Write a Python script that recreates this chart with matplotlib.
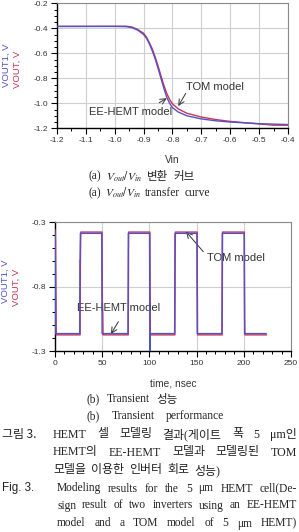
import matplotlib
matplotlib.use("Agg")
import matplotlib.pyplot as plt
from matplotlib.ticker import MultipleLocator, FixedLocator, FormatStrFormatter

W, H = 299, 532

# transfer curve (a)
vin_ee = [-1.2, -1.0, -0.96, -0.94, -0.92, -0.90, -0.89, -0.88, -0.87, -0.86, -0.85, -0.84, -0.83,
          -0.82, -0.81, -0.80, -0.78, -0.75, -0.70, -0.65, -0.60, -0.50, -0.40]
vout_ee = [-0.385, -0.385, -0.387, -0.395, -0.415, -0.45, -0.48, -0.525, -0.58, -0.645, -0.72, -0.80, -0.88,
           -0.95, -1.00, -1.035, -1.07, -1.10, -1.125, -1.14, -1.15, -1.163, -1.17]
vin_tom = [-1.2, -1.0, -0.96, -0.94, -0.92, -0.90, -0.89, -0.88, -0.87, -0.86, -0.85, -0.84, -0.83,
           -0.82, -0.81, -0.80, -0.78, -0.75, -0.70, -0.65, -0.60, -0.50, -0.45, -0.40]
vout_tom = [-0.385, -0.384, -0.383, -0.39, -0.41, -0.44, -0.47, -0.515, -0.565, -0.63, -0.70, -0.78, -0.855,
            -0.92, -0.97, -1.005, -1.045, -1.08, -1.11, -1.13, -1.145, -1.165, -1.175, -1.175]

# transient (b)
t_ee = [0, 0.9, 26.2, 26.4, 26.6, 26.9, 49.5, 49.9, 77.3, 77.7, 100.2, 100.6, 100.9,
        126.7, 127.1, 150.3, 150.7, 176.8, 177.2, 200.4, 200.8, 223.6]
v_ee = [-0.388, -1.165, -1.165, -0.60, -0.60, -0.388, -0.388, -1.165, -1.165, -0.388, -0.388, -1.50, -1.165,
        -1.165, -0.388, -0.388, -1.165, -1.165, -0.388, -0.388, -1.165, -1.165]
t_tom = [0, 0.5, 1.2, 26.6, 26.9, 27.3, 49.8, 50.2, 50.6, 50.9, 77.6, 78.0, 100.5, 101.0,
         127.0, 127.3, 127.6, 150.6, 151.0, 177.1, 177.5, 200.6, 200.9, 201.2, 224.0]
v_tom = [-0.36, -0.45, -1.175, -1.175, -0.62, -0.378, -0.378, -0.92, -1.0, -1.175, -1.175, -0.378, -0.378, -1.175,
         -1.175, -0.5, -0.378, -0.378, -1.175, -1.175, -0.378, -0.378, -1.05, -1.175, -1.175]
yticks_b = [-1.3, -0.8, -0.3]
yminor_b = [-1.2, -1.1, -1.0, -0.9, -0.7, -0.6, -0.5, -0.4]

BLUE = "#5252c8"
RED = "#cc3350"
SANS = ["Liberation Sans", "DejaVu Sans"]
SERIF_KR = ["Liberation Serif", "Noto Sans CJK KR"]

plt.rcParams["axes.unicode_minus"] = False
plt.rcParams["font.family"] = SANS
plt.rcParams["mathtext.fontset"] = "stix"

fig = plt.figure(figsize=(W / 100, H / 100), dpi=100)


def box(l, t, r, b):
    return [l / W, 1 - b / H, (r - l) / W, (b - t) / H]


def style_axes(ax):
    for s in ["left", "bottom"]:
        ax.spines[s].set_color("black")
        ax.spines[s].set_linewidth(1.0)
    for s in ["top", "right"]:
        ax.spines[s].set_color("#8a8a8a")
        ax.spines[s].set_linewidth(0.8)
    ax.tick_params(which="major", direction="out", length=4.5, width=0.8, pad=2,
                   labelsize=6, labelcolor="#333333")
    ax.tick_params(which="minor", direction="out", length=2.5, width=0.7)
    ax.grid(True, which="major", color="#cfcfcf", linewidth=0.8)
    ax.set_axisbelow(True)


def label_pair(xb, xr, yc_b, yc_r):
    fig.text(xb / W, 1 - yc_b / H, "VOUT1, V", rotation=90, color=BLUE, fontsize=6.8,
             ha="center", va="center")
    fig.text(xr / W, 1 - yc_r / H, "VOUT, V", rotation=90, color=RED, fontsize=6.8,
             ha="center", va="center")


def arrow(ax, tip, tail):
    ax.annotate("", xy=tip, xytext=tail,
                arrowprops=dict(arrowstyle="->", color="#333333", lw=0.7, shrinkA=0, shrinkB=0))


# (a) transfer curve
ax1 = fig.add_axes(box(57, 3.3, 288, 128.3))
style_axes(ax1)
ax1.plot(vin_tom, vout_tom, color=RED, lw=1.0, zorder=3)
ax1.plot(vin_ee, vout_ee, color=BLUE, lw=1.0, zorder=4)
ax1.set_xlim(-1.2, -0.4)
ax1.set_ylim(-1.2, -0.2)
ax1.xaxis.set_major_locator(MultipleLocator(0.1))
ax1.xaxis.set_minor_locator(MultipleLocator(0.05))
ax1.yaxis.set_major_locator(MultipleLocator(0.2))
ax1.yaxis.set_minor_locator(MultipleLocator(0.05))
ax1.xaxis.set_major_formatter(FormatStrFormatter("%.1f"))
ax1.yaxis.set_major_formatter(FormatStrFormatter("%.1f"))
ax1.text(-0.653, -0.87, "TOM model", fontsize=8, color="#333333", ha="center", va="center")
ax1.text(-0.944, -1.07, "EE-HEMT model", fontsize=8, color="#333333", ha="center", va="center")
arrow(ax1, (-0.780, -1.022), (-0.754, -0.92))
arrow(ax1, (-0.820, -0.96), (-0.846, -0.995))
fig.text(172.5 / W, 1 - 160 / H, "Vin", fontsize=7.3, color="#333333", ha="center", va="center")
label_pair(6.5, 17, 65, 69)

# (b) transient
ax2 = fig.add_axes(box(55, 222, 291, 351))
style_axes(ax2)
ax2.plot(t_tom, v_tom, color=RED, lw=1.0, zorder=3)
ax2.plot(t_ee, v_ee, color=BLUE, lw=1.0, zorder=4)
ax2.set_xlim(0, 250)
ax2.set_ylim(-1.3, -0.3)
ax2.xaxis.set_major_locator(MultipleLocator(50))
ax2.xaxis.set_minor_locator(MultipleLocator(10))
ax2.yaxis.set_major_locator(FixedLocator(yticks_b))
ax2.yaxis.set_minor_locator(FixedLocator(yminor_b))
ax2.yaxis.set_major_formatter(FormatStrFormatter("%.1f"))
ax2.text(191.4, -0.577, "TOM model", fontsize=8, color="#333333", ha="center", va="center")
ax2.text(67, -0.969, "EE-HEMT model", fontsize=8, color="#333333", ha="center", va="center")
arrow(ax2, (138.8, -0.375), (157.1, -0.53))
arrow(ax2, (59.3, -1.168), (67.1, -1.073))
fig.text(173 / W, 1 - 383 / H, "time, nsec", fontsize=7.3, color="#333333", ha="center", va="center")
label_pair(5.5, 16.5, 281, 287.5)

# captions, justified between two pixel edges
renderer = fig.canvas.get_renderer()


def line(words, x0, x1, y, size=8.3, family=SERIF_KR, justify=True):
    texts = [fig.text(0, 1 - y / H, w, fontsize=size, family=family, color="#222222",
                      ha="left", va="center") for w in words]
    widths = [t.get_window_extent(renderer).width for t in texts]
    if justify and len(words) > 1:
        gap = (x1 - x0 - sum(widths)) / (len(words) - 1)
    else:
        gap = 5.0
    x = x0
    for t, w in zip(texts, widths):
        t.set_x(x / W)
        x += w + gap


vv = r"$V_{out}/V_{in}$"
line(["(a)", vv, "변환", "커브"], 88, 195, 176.5)
line(["(a)", vv, "transfer", "curve"], 88, 210, 193)
line(["(b)", "Transient", "성능"], 87, 178, 399.5)
line(["(b)", "Transient", "performance"], 87, 224, 416)

fig.text(2 / W, 1 - 434.5 / H, "그림 3.", fontsize=8.6, family=["Noto Sans CJK KR"],
         color="#222222", ha="left", va="center")
line(["HEMT", "셀", "모델링", "결과(게이트", "폭", "5", "μm인"], 53, 297, 434.5, size=8.6)
line(["HEMT의", "EE-HEMT", "모델과", "모델링된", "TOM"], 53, 297, 452.5, size=8.6)
line(["모델을", "이용한", "인버터", "회로", "성능)"], 53, 297, 470.5, size=8.6, justify=False)

fig.text(2 / W, 1 - 488.5 / H, "Fig. 3.", fontsize=8.4, family=SANS,
         color="#222222", ha="left", va="center")
line(["Modeling", "results", "for", "the", "5", "μm", "HEMT", "cell(De-"], 57, 297, 488.5)
line(["sign", "result", "of", "two", "inverters", "using", "an", "EE-HEMT"], 57, 297, 505.5)
line(["model", "and", "a", "TOM", "model", "of", "5", "μm", "HEMT)"], 57, 297, 523.5)

fig.savefig("out.png", dpi=100)
